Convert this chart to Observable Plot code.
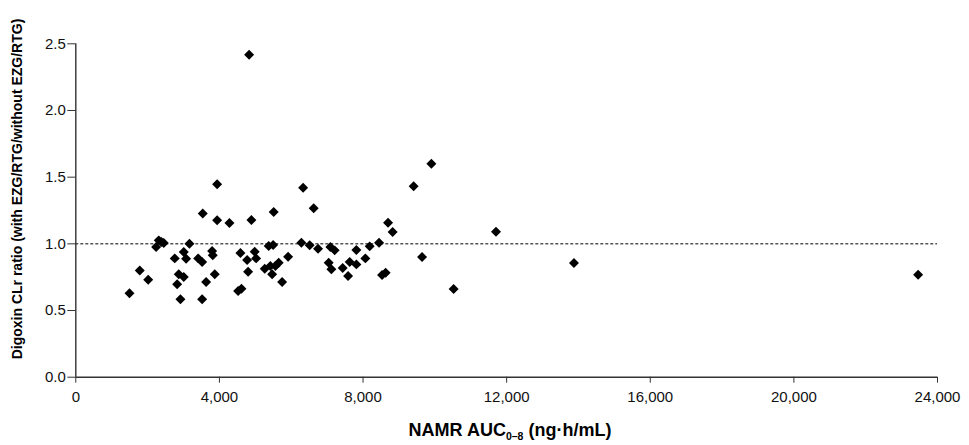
<!DOCTYPE html>
<html>
<head>
<meta charset="utf-8">
<script src="https://cdn.jsdelivr.net/npm/d3@7"></script>
<script src="https://cdn.jsdelivr.net/npm/@observablehq/plot@0.6"></script>
<style>
  html, body { margin: 0; padding: 0; background: #fff; }
  #chart svg { display: block; font-family: "Liberation Sans", Arial, sans-serif; }
</style>
</head>
<body>
<div id="chart"></div>
<script>
// NAMR AUC0–8 (ng·h/mL)
const auc = [
  1495, 1782, 2016, 2238, 2311, 2386, 2450, 2756, 2823, 2867,
  2915, 3007, 3007, 3073, 3165, 3408, 3519, 3519, 3536, 3630,
  3797, 3814, 3870, 3937, 3937, 4279, 4521, 4613, 4585, 4772,
  4800, 4891, 4983, 5022, 5262, 5373, 5420, 5468, 5496, 5512,
  5560, 5651, 5746, 5913, 6283, 6331, 6514, 6626, 6748, 7043,
  7091, 7119, 7210, 7433, 7584, 7628, 7815, 7815, 8065, 8185,
  8447, 8530, 8630, 8697, 8825, 9410, 9644, 9903, 10523, 11704,
  13875, 23460, 4827
];
// Digoxin CLr ratio (with EZG/RTG / without EZG/RTG)
const ratio = [
  0.63, 0.80, 0.73, 0.976, 1.026, 1.013, 1.006, 0.891, 0.697, 0.772,
  0.584, 0.939, 0.751, 0.888, 1.00, 0.891, 0.864, 0.584, 1.228, 0.714,
  0.946, 0.914, 0.772, 1.446, 1.176, 1.156, 0.646, 0.664, 0.931, 0.879,
  0.791, 1.178, 0.941, 0.891, 0.813, 0.983, 0.834, 0.772, 0.991, 1.238,
  0.834, 0.858, 0.714, 0.903, 1.008, 1.420, 0.989, 1.266, 0.963, 0.858,
  0.976, 0.809, 0.951, 0.819, 0.759, 0.864, 0.954, 0.846, 0.891, 0.981,
  1.008, 0.766, 0.784, 1.158, 1.088, 1.431, 0.901, 1.600, 0.661, 1.091,
  0.856, 0.769, 2.418
];
const xTicks = [0, 4000, 8000, 12000, 16000, 20000, 24000];
const yTicks = [0, 0.5, 1.0, 1.5, 2.0, 2.5];
const referenceRatio = [1.0];
const xLabelMain = "NAMR AUC";
const xLabelSub = "0–8";
const xLabelUnit = " (ng·h/mL)";
const yLabel = "Digoxin CLr ratio (with EZG/RTG/without EZG/RTG)";

const points = auc.map((x, i) => ({x, y: ratio[i]}));

const chart = Plot.plot({
  width: 969,
  height: 445,
  marginLeft: 75.3,
  marginRight: 32,
  marginTop: 43.3,
  marginBottom: 68.3,
  style: {fontFamily: "'Liberation Sans', Arial, sans-serif", background: "#fff", color: "#000"},
  x: {domain: [0, 24000], label: null},
  y: {domain: [0, 2.5], label: null},
  marks: [
    Plot.ruleY(referenceRatio, {stroke: "#000", strokeWidth: 1, strokeDasharray: "3,2"}),
    Plot.dot(points, {x: "x", y: "y", symbol: "diamond2", r: 4.5, fill: "#000", stroke: null}),
    Plot.ruleY([0], {stroke: "#333", strokeWidth: 1.4}),
    Plot.ruleX([0], {stroke: "#333", strokeWidth: 1.4}),
    Plot.axisX({ticks: xTicks, tickFormat: d3.format(","), tickSize: 6, tickPadding: 8, fontSize: 15, label: null, stroke: "#333"}),
    Plot.axisY({ticks: yTicks, tickFormat: d3.format(".1f"), tickSize: 8, tickPadding: 2, fontSize: 15, label: null, stroke: "#333"})
  ]
});

const svg = d3.select(chart);
svg.selectAll("g[aria-label='x-axis tick label'] text, g[aria-label='y-axis tick label'] text").attr("fill", "#111");

const xl = svg.append("text")
  .attr("x", 510).attr("y", 436)
  .attr("text-anchor", "middle")
  .attr("font-weight", "bold")
  .attr("font-size", 18)
  .attr("fill", "#000");
xl.append("tspan").text(xLabelMain);
xl.append("tspan").attr("font-size", 10.5).attr("dy", 4).text(xLabelSub);
xl.append("tspan").attr("dy", -4).text(xLabelUnit);

svg.append("text")
  .attr("transform", "translate(22,189) rotate(-90)")
  .attr("text-anchor", "middle")
  .attr("font-weight", "bold")
  .attr("font-size", 14)
  .attr("fill", "#000")
  .text(yLabel);

document.getElementById("chart").appendChild(chart);
</script>
</body>
</html>
